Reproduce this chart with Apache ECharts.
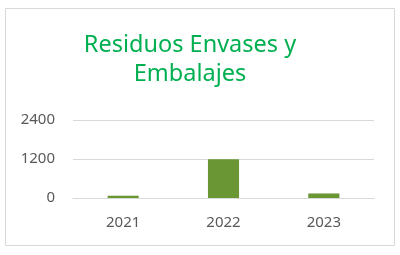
<!DOCTYPE html>
<html><head><meta charset="utf-8">
<script src="https://cdn.jsdelivr.net/npm/echarts@6/dist/echarts.min.js"></script>
<style>html,body{margin:0;padding:0;background:#fff}#c{width:400px;height:255px}</style>
</head><body><div id="c"></div>
<script>
const categories = ['2021', '2022', '2023'];
const values = [70, 1190, 140];
const yTicks = [0, 1200, 2400];
const titleText = 'Residuos Envases y\nEmbalajes';

const chart = echarts.init(document.getElementById('c'), null, {renderer: 'canvas'});
chart.setOption({
  animation: false,
  backgroundColor: '#fff',
  graphic: [
    {type: 'rect', shape: {x: 5.5, y: 8.5, width: 389, height: 237}, style: {fill: 'none', stroke: '#d9d9d9', lineWidth: 1}, silent: true},
    {type: 'text', x: 190, y: 31, style: {text: titleText, fill: '#00B050', font: '23.5px "Noto Sans"', align: 'center', verticalAlign: 'top', lineHeight: 29}}
  ],
  grid: {left: 73, right: 26, top: 120, bottom: 57, containLabel: false},
  xAxis: {
    type: 'category', data: categories,
    axisLine: {show: true, lineStyle: {color: '#d9d9d9', width: 1}},
    axisTick: {show: false},
    axisLabel: {color: '#595959', fontSize: 15, fontFamily: 'Noto Sans', margin: 17}
  },
  yAxis: {
    type: 'value', min: yTicks[0], max: yTicks[yTicks.length - 1], interval: yTicks[1] - yTicks[0],
    axisLine: {show: false}, axisTick: {show: false},
    splitLine: {lineStyle: {color: '#d9d9d9', width: 1}},
    axisLabel: {color: '#595959', fontSize: 15, fontFamily: 'Noto Sans', margin: 18, formatter: v => String(v)}
  },
  series: [{
    type: 'bar', data: values, barWidth: '31%',
    itemStyle: {color: '#6a9733'}
  }]
});
</script></body></html>
